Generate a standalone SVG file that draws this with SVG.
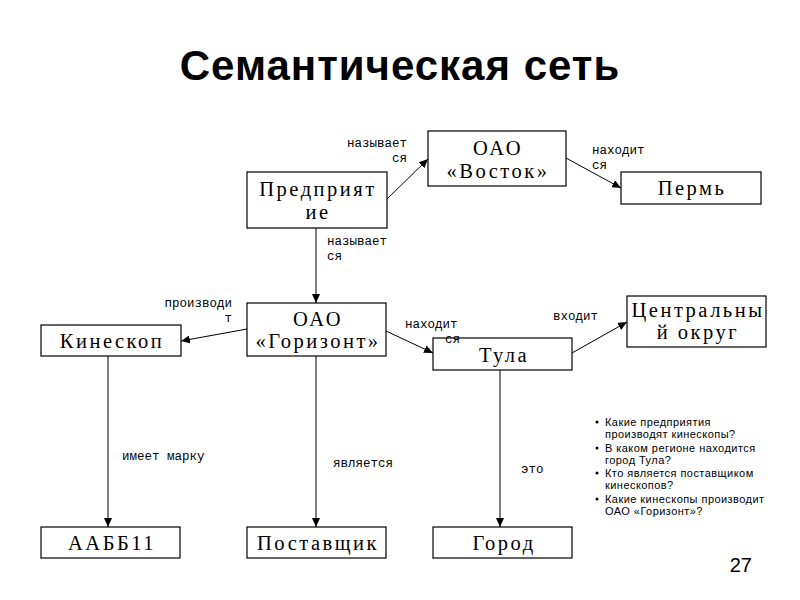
<svg xmlns="http://www.w3.org/2000/svg" width="800" height="600" viewBox="0 0 800 600">
<style>
.box{fill:#fff;stroke:#000;stroke-width:1.2}
.nt{font-family:"Liberation Serif",serif;font-size:20.5px;letter-spacing:2.5px;text-anchor:middle;fill:#000}
.el{font-family:"Liberation Mono",monospace;font-size:12.5px;fill:#000}
.ln{stroke:#000;stroke-width:1;fill:none;marker-end:url(#ah)}
.q{font-family:"Liberation Sans",sans-serif;font-size:11px;letter-spacing:0.45px;fill:#000}
</style>
<defs>
<marker id="ah" markerUnits="userSpaceOnUse" markerWidth="10" markerHeight="8" refX="9" refY="4" orient="auto">
<path d="M0,0 L9,4 L0,8 Z" fill="#000"/>
</marker>
</defs>
<rect width="800" height="600" fill="#fff"/>
<text x="400" y="80" text-anchor="middle" font-family="Liberation Sans, sans-serif" font-size="42" font-weight="bold" letter-spacing="1">Семантическая сеть</text>

<g id="n-predpr"><rect class="box" x="247" y="172" width="140" height="56"/><text class="nt" x="318" y="196">Предприят</text><text class="nt" x="318" y="219">ие</text></g>
<g id="n-vostok"><rect class="box" x="428" y="131" width="138" height="55"/><text class="nt" x="498" y="155">ОАО</text><text class="nt" x="498" y="178">«Восток»</text></g>
<g id="n-perm"><rect class="box" x="621" y="172" width="140" height="32"/><text class="nt" x="692" y="195">Пермь</text></g>
<g id="n-gorizont"><rect class="box" x="247" y="303" width="139" height="53"/><text class="nt" x="318" y="326">ОАО</text><text class="nt" x="318" y="348">«Горизонт»</text></g>
<g id="n-kineskop"><rect class="box" x="41" y="325" width="140" height="31"/><text class="nt" x="112" y="348">Кинескоп</text></g>
<g id="n-tula"><rect class="box" x="433" y="338" width="139" height="32"/><text class="nt" x="504" y="362">Тула</text></g>
<g id="n-central"><rect class="box" x="627" y="296" width="139" height="51"/><text class="nt" x="698" y="317">Центральны</text><text class="nt" x="698" y="339">й округ</text></g>
<g id="n-aabb"><rect class="box" x="41" y="527" width="139" height="31"/><text class="nt" x="112" y="550">ААББ11</text></g>
<g id="n-post"><rect class="box" x="247" y="527" width="139" height="31"/><text class="nt" x="318" y="550">Поставщик</text></g>
<g id="n-gorod"><rect class="box" x="433" y="527" width="139" height="31"/><text class="nt" x="504" y="550">Город</text></g>

<g id="connectors">
<line class="ln" x1="387" y1="199" x2="428" y2="159"/>
<line class="ln" x1="566" y1="158" x2="621" y2="188"/>
<line class="ln" x1="316" y1="228" x2="316" y2="303"/>
<line class="ln" x1="247" y1="329" x2="181" y2="341"/>
<line class="ln" x1="386" y1="331" x2="433" y2="353"/>
<line class="ln" x1="572" y1="353" x2="627" y2="322"/>
<line class="ln" x1="108" y1="356" x2="108" y2="527"/>
<line class="ln" x1="316" y1="356" x2="316" y2="527"/>
<line class="ln" x1="500" y1="370" x2="500" y2="527"/>
<text class="el" x="407" y="147" text-anchor="end">называет</text>
<text class="el" x="407" y="162" text-anchor="end">ся</text>
<text class="el" x="592" y="154">находит</text>
<text class="el" x="592" y="169">ся</text>
<text class="el" x="327" y="245">называет</text>
<text class="el" x="327" y="260">ся</text>
<text class="el" x="232" y="307" text-anchor="end">производи</text>
<text class="el" x="232" y="322" text-anchor="end">т</text>
<text class="el" x="405" y="328">находит</text>
<text class="el" x="445" y="343">ся</text>
<text class="el" x="553" y="320">входит</text>
<text class="el" x="122" y="460">имеет марку</text>
<text class="el" x="333" y="467">является</text>
<text class="el" x="521" y="473">это</text>
</g>

<g id="questions">
<circle cx="597" cy="422" r="1.5"/>
<circle cx="597" cy="448" r="1.5"/>
<circle cx="597" cy="473" r="1.5"/>
<circle cx="597" cy="499" r="1.5"/>
<text class="q" x="605" y="426">Какие предприятия</text>
<text class="q" x="605" y="438">производят кинескопы?</text>
<text class="q" x="605" y="452">В каком регионе находится</text>
<text class="q" x="605" y="464">город Тула?</text>
<text class="q" x="605" y="477">Кто является поставщиком</text>
<text class="q" x="605" y="489">кинескопов?</text>
<text class="q" x="605" y="503">Какие кинескопы производит</text>
<text class="q" x="605" y="515">ОАО «Горизонт»?</text>
</g>
<text x="752" y="572" text-anchor="end" font-family="Liberation Sans, sans-serif" font-size="20">27</text>
</svg>
